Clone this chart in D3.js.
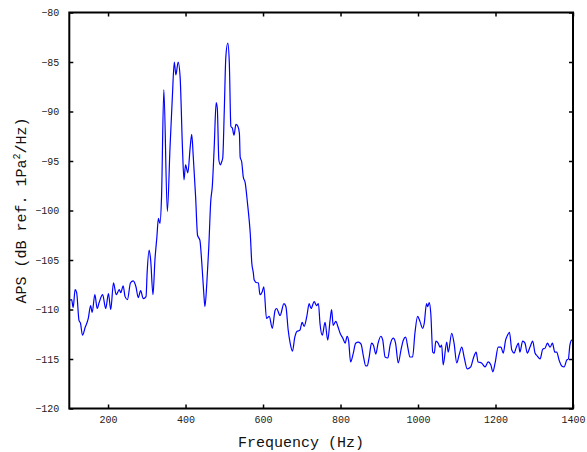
<!DOCTYPE html>
<html>
<head>
<meta charset="utf-8">
<script src="https://cdn.jsdelivr.net/npm/d3@7"></script>
<style>
  body { margin: 0; background: #fff; }
  svg { display: block; }
  .tick text { font-family: "Liberation Mono", monospace; font-size: 10px; fill: #222; }
  .axis-label { font-family: "Liberation Mono", monospace; font-size: 15px; fill: #111; }
</style>
</head>
<body>
<svg id="aps" width="587" height="452"></svg>
<script>
// frequency (Hz) and APS (dB ref. 1Pa^2/Hz)
const freq = [100, 106, 110, 115, 119, 125, 129, 134, 141, 149, 155, 159, 166, 172, 177, 186, 194, 201, 207, 214,
  221, 229, 233, 239, 244, 250, 258, 265, 272, 278, 284, 291, 298, 301, 306, 310, 316, 321, 326, 330,
  334, 338, 344, 353, 360, 366, 371, 375, 381, 386, 392, 396, 400, 406, 412, 416, 420, 426, 431, 437,
  442, 447, 450, 455, 460, 465, 469, 474, 479, 482, 486, 490, 493, 496, 500, 504, 509, 513, 517, 521,
  525, 530, 535, 539, 541, 545, 549, 554, 560, 565, 567, 571, 575, 577, 584, 588, 592, 598, 602, 609,
  616, 624, 631, 635, 644, 654, 659, 665, 670, 676, 682, 688, 695, 701, 706, 713, 719, 724, 732, 738,
  743, 747, 753, 760, 767, 773, 777, 781, 788, 793, 799, 806, 812, 817, 821, 826, 833, 839, 846, 853,
  859, 865, 869, 874, 880, 885, 891, 897, 904, 909, 915, 922, 928, 936, 942, 949, 956, 962, 968, 974,
  979, 986, 992, 999, 1005, 1012, 1016, 1022, 1025, 1029, 1033, 1038, 1042, 1046, 1052, 1057, 1061, 1065, 1074, 1078,
  1087, 1093, 1100, 1106, 1113, 1119, 1127, 1136, 1143, 1150, 1155, 1164, 1173, 1181, 1188, 1193, 1199, 1207, 1214, 1220,
  1226, 1231, 1236, 1242, 1248, 1253, 1259, 1263, 1270, 1276, 1282, 1289, 1296, 1302, 1308, 1315, 1322, 1328, 1334, 1341,
  1347, 1353, 1358, 1364, 1371, 1377, 1384, 1388, 1392, 1397, 1400];

const aps = [-109.1, -109.0, -109.8, -108.0, -108.3, -111.1, -111.4, -112.6, -111.8, -110.9, -109.6, -110.3, -108.5, -109.9, -109.3, -108.5, -109.9, -108.4, -110.0, -107.3,
  -108.5, -108.0, -108.3, -107.6, -108.7, -109.0, -107.3, -107.1, -107.7, -108.8, -108.1, -108.9, -108.7, -106.2, -104.0, -105.0, -108.5, -105.0, -102.7, -100.8,
  -101.3, -98.7, -87.8, -100.1, -93.6, -88.5, -85.0, -86.3, -85.0, -86.5, -93.6, -96.9, -95.4, -96.2, -93.6, -92.3, -94.6, -98.6, -102.5, -103.0,
  -105.3, -108.3, -109.7, -107.3, -103.7, -99.1, -97.6, -93.6, -89.1, -89.7, -94.9, -95.4, -95.1, -94.7, -89.9, -84.5, -83.1, -85.1, -91.5, -91.7,
  -92.4, -91.3, -91.5, -92.2, -94.6, -95.1, -96.6, -97.2, -99.3, -101.3, -102.3, -105.3, -106.3, -107.0, -107.3, -107.3, -108.5, -108.2, -107.7, -110.9,
  -110.7, -111.9, -110.1, -109.9, -110.6, -109.4, -109.7, -112.1, -113.4, -114.2, -112.8, -112.2, -112.1, -111.3, -111.7, -110.7, -109.4, -109.9, -109.2, -109.6,
  -109.4, -111.4, -112.6, -111.3, -113.1, -111.1, -110.0, -111.6, -111.2, -111.7, -112.4, -112.9, -113.4, -112.7, -113.2, -115.3, -114.4, -113.4, -113.3, -113.5,
  -114.7, -115.7, -115.7, -114.8, -113.4, -113.6, -114.5, -113.4, -112.7, -113.1, -114.8, -114.9, -113.6, -112.9, -113.4, -115.4, -114.1, -113.1, -112.8, -113.9,
  -114.8, -114.8, -112.4, -110.7, -111.2, -111.9, -111.4, -109.4, -109.7, -109.3, -110.4, -114.3, -114.4, -113.2, -113.4, -113.8, -113.6, -115.6, -113.3, -114.3,
  -112.4, -113.4, -115.4, -114.6, -113.8, -114.8, -116.0, -115.8, -114.9, -114.3, -115.3, -115.4, -115.8, -115.3, -115.6, -116.3, -115.4, -113.8, -113.8, -114.4,
  -113.1, -112.6, -112.3, -114.1, -114.4, -113.9, -113.4, -114.3, -113.2, -113.4, -114.4, -113.8, -113.2, -114.4, -114.7, -115.0, -114.0, -113.9, -113.4, -113.8,
  -113.4, -114.3, -114.3, -115.1, -115.7, -115.8, -115.1, -115.0, -113.6, -113.1, -113.1];

const xTicks = [200, 400, 600, 800, 1000, 1200, 1400];
const yTicks = [-120, -115, -110, -105, -100, -95, -90, -85, -80];

const svg = d3.select("#aps");
const margin = { top: 12.5, right: 14, bottom: 43.5, left: 69.3 };
const width = +svg.attr("width") - margin.left - margin.right;
const height = +svg.attr("height") - margin.top - margin.bottom;

const g = svg.append("g")
  .attr("transform", `translate(${margin.left},${margin.top})`);

const x = d3.scaleLinear().domain([100, 1400]).range([0, width]);
const y = d3.scaleLinear().domain([-120, -80]).range([height, 0]);

const fmt = d => d < 0 ? "\u2212" + Math.abs(d) : String(d);

// bottom axis with labels, ticks pointing inward
const xAxis = g.append("g")
  .attr("transform", `translate(0,${height})`)
  .call(d3.axisBottom(x).tickValues(xTicks).tickSizeInner(-4).tickSizeOuter(0).tickPadding(7).tickFormat(fmt));

// top axis ticks only
const xTop = g.append("g")
  .call(d3.axisTop(x).tickValues(xTicks).tickSizeInner(-4).tickSizeOuter(0).tickFormat(""));

const yAxis = g.append("g")
  .call(d3.axisLeft(y).tickValues(yTicks).tickSizeInner(-4).tickSizeOuter(0).tickPadding(10).tickFormat(fmt));

const yRight = g.append("g")
  .attr("transform", `translate(${width},0)`)
  .call(d3.axisRight(y).tickValues(yTicks).tickSizeInner(-4).tickSizeOuter(0).tickFormat(""));

[xAxis, xTop, yAxis, yRight].forEach(a => {
  a.select(".domain").remove();
  a.selectAll(".tick line").attr("stroke", "#000").attr("stroke-width", 1.5);
});

const series = freq.map((f, i) => ({ f: f, v: aps[i] }));

const line = d3.line()
  .x(d => x(d.f))
  .y(d => y(d.v))
  .curve(d3.curveMonotoneX);

g.append("path")
  .datum(series)
  .attr("fill", "none")
  .attr("stroke", "#0000ff")
  .attr("stroke-width", 1.2)
  .attr("d", line);

// frame
g.append("rect")
  .attr("x", 0)
  .attr("y", 0)
  .attr("width", width)
  .attr("height", height)
  .attr("fill", "none")
  .attr("stroke", "#000")
  .attr("stroke-width", 2);

svg.append("text")
  .attr("class", "axis-label")
  .attr("x", 301)
  .attr("y", 447)
  .attr("text-anchor", "middle")
  .text("Frequency (Hz)");

const yLabel = svg.append("text")
  .attr("class", "axis-label")
  .attr("transform", `translate(26,${margin.top + height / 2}) rotate(-90)`)
  .attr("text-anchor", "middle");

yLabel.append("tspan").text("APS (dB ref. 1Pa");
yLabel.append("tspan").attr("font-size", "10px").attr("dy", "-0.6em").text("2");
yLabel.append("tspan").attr("dy", "0.4em").text("/Hz)");
</script>
</body>
</html>
